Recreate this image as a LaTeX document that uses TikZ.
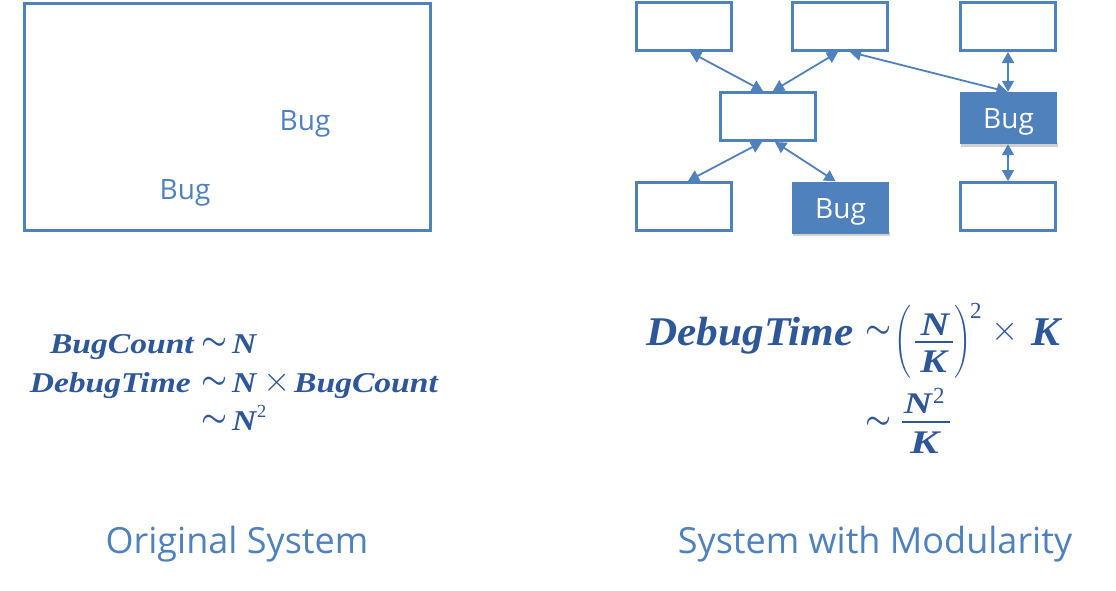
\documentclass[tikz,border=0pt]{standalone}
\usepackage{amsmath}
\usepackage{graphicx}
\usepackage{fontspec}
\setmainfont{Open Sans}
\newfontfamily\formfont{Liberation Serif}
\usetikzlibrary{arrows.meta}
\definecolor{boxblue}{HTML}{4F81BD}
\definecolor{formblue}{HTML}{2E5799}
% left formula text: bold italic, widened
\newcommand\lt[1]{\scalebox{1.17}[1]{\fontsize{28.7}{30}\selectfont\formfont\bfseries\itshape #1}}
% right formula text at a given size and widening
\newcommand\rt[3]{\scalebox{#2}[1]{\fontsize{#1}{#1}\selectfont\formfont\bfseries\itshape #3}}
\newcommand\supnum[1]{\fontsize{#1}{#1}\selectfont\formfont 2}
\newcommand\tildesym{\scalebox{2.9}{\fontsize{10}{12}\selectfont\boldmath$\sim$}}
\newcommand\timessym{\scalebox{3.5}{\fontsize{10}{12}\selectfont$\times$}}
\newcommand\bigpar[1]{\scalebox{2.3}[3.04]{\fontsize{10}{12}\selectfont$\bigg#1$}}
\begin{document}
\begin{tikzpicture}[x=1pt,y=-1pt,
  plainbox/.style={draw=boxblue, line width=3pt, fill=white, minimum width=95pt, minimum height=48pt, inner sep=0pt},
  bugbox/.style={fill=boxblue, minimum width=97pt, minimum height=52pt, inner sep=0pt},
  link/.style={draw=boxblue, line width=1.8pt, {Triangle[length=11pt,width=12pt]}-{Triangle[length=11pt,width=12pt]}},
  buglabel/.style={text=boxblue, font=\fontsize{28}{30}\selectfont, inner sep=0pt},
  caption/.style={text=boxblue, font=\fontsize{36}{40}\selectfont, inner sep=0pt},
  form/.style={text=formblue, inner sep=0pt},
  fracbar/.style={draw=formblue, line width=2pt}]
\useasboundingbox (0,0) rectangle (1116,590);

% Original system
\node[draw=boxblue, line width=3pt, minimum width=406pt, minimum height=227pt, inner sep=0pt] (orig) at (227.5,117) {};
\node[buglabel] (bug1) at (305,124) {Bug};
\node[buglabel] (bug2) at (185,193) {Bug};

% Modular system
\node[plainbox] (t1) at (684,26.5) {};
\node[plainbox] (t2) at (840,26.5) {};
\node[plainbox] (t3) at (1008,26.5) {};
\node[plainbox] (m) at (768,116.5) {};
\node[plainbox] (b1) at (684,206.5) {};
\node[plainbox] (b3) at (1008,206.5) {};
\fill[black!18] (961,143) rectangle (1058,147);
\fill[black!18] (793,232) rectangle (890,236);
\node[bugbox] (bugr) at (1008.5,118) {};
\node[bugbox] (bugb) at (840.5,207.5) {};
\node[buglabel, text=white] (bugrt) at (1008.5,122) {Bug};
\node[buglabel, text=white] (bugbt) at (840.5,211.5) {Bug};

\draw[link] ([xshift=6pt]t1.south) -- ([xshift=-5pt]m.north);
\draw[link] ([xshift=-2pt]t2.south) -- ([xshift=5pt]m.north);
\draw[link] ([xshift=10pt]t2.south) -- ([xshift=-1pt]bugr.north);
\draw[link] (t3.south) -- (bugr.north -| t3.south);
\draw[link] ([xshift=-6pt]m.south) -- ([xshift=4pt]b1.north);
\draw[link] ([xshift=7pt]m.south) -- ([xshift=-5pt]bugb.north);
\draw[link] (bugr.south -| b3.north) -- (b3.north);

% Left formula
\node[form, anchor=base east] (l1a) at (194,353) {\lt{BugCount}};
\node[form] (l1s) at (214,344) {\tildesym};
\node[form, anchor=base west] (l1n) at (232,353) {\lt{N}};
\node[form, anchor=base east] (l2a) at (191,392) {\lt{DebugTime}};
\node[form] (l2s) at (214,383) {\tildesym};
\node[form, anchor=base west] (l2n) at (232,392) {\lt{N}};
\node[form] (l2x) at (277,383) {\timessym};
\node[form, anchor=base west] (l2b) at (294,392) {\lt{BugCount}};
\node[form] (l3s) at (214,421) {\tildesym};
\node[form, anchor=base west] (l3n) at (232,430) {\lt{N}};
\node[form, anchor=base west] (l3e) at (257,417) {\supnum{18.5}};

% Right formula, first line
\node[form, anchor=base east] (r1a) at (854,345) {\rt{40.8}{1.06}{DebugTime}};
\node[form] (r1s) at (878,332) {\tildesym};
\node[form] (r1p) at (902.5,341.5) {\bigpar(};
\node[form, anchor=base] (r1n) at (935,335) {\rt{33}{1.2}{N}};
\node[form, anchor=base] (r1k) at (933.5,372) {\rt{33}{1.2}{K}};
\coordinate (fb1) at (915,342);
\coordinate (fb2) at (953,342);
\draw[fracbar] (fb1) -- (fb2);
\node[form] (r1q) at (962.5,341.5) {\bigpar)};
\node[form, anchor=base west] (r1e) at (970,318) {\supnum{23}};
\node[form] (r1x) at (1005,332) {\timessym};
\node[form, anchor=base west] (r1kk) at (1031,345) {\rt{40.8}{1.06}{K}};

% Right formula, second line
\node[form] (r2s) at (878,423) {\tildesym};
\node[form, anchor=base] (r2n) at (918,413) {\rt{30}{1.3}{N}};
\node[form, anchor=base west] (r2e) at (933,403) {\supnum{23}};
\node[form, anchor=base] (r2k) at (924.5,453) {\rt{33}{1.3}{K}};
\coordinate (gb1) at (902,422);
\coordinate (gb2) at (950,422);
\draw[fracbar] (gb1) -- (gb2);

% Captions
\node[caption] (cap1) at (237,544) {Original System};
\node[caption] (cap2) at (875,544) {System with Modularity};
\end{tikzpicture}
\end{document}
